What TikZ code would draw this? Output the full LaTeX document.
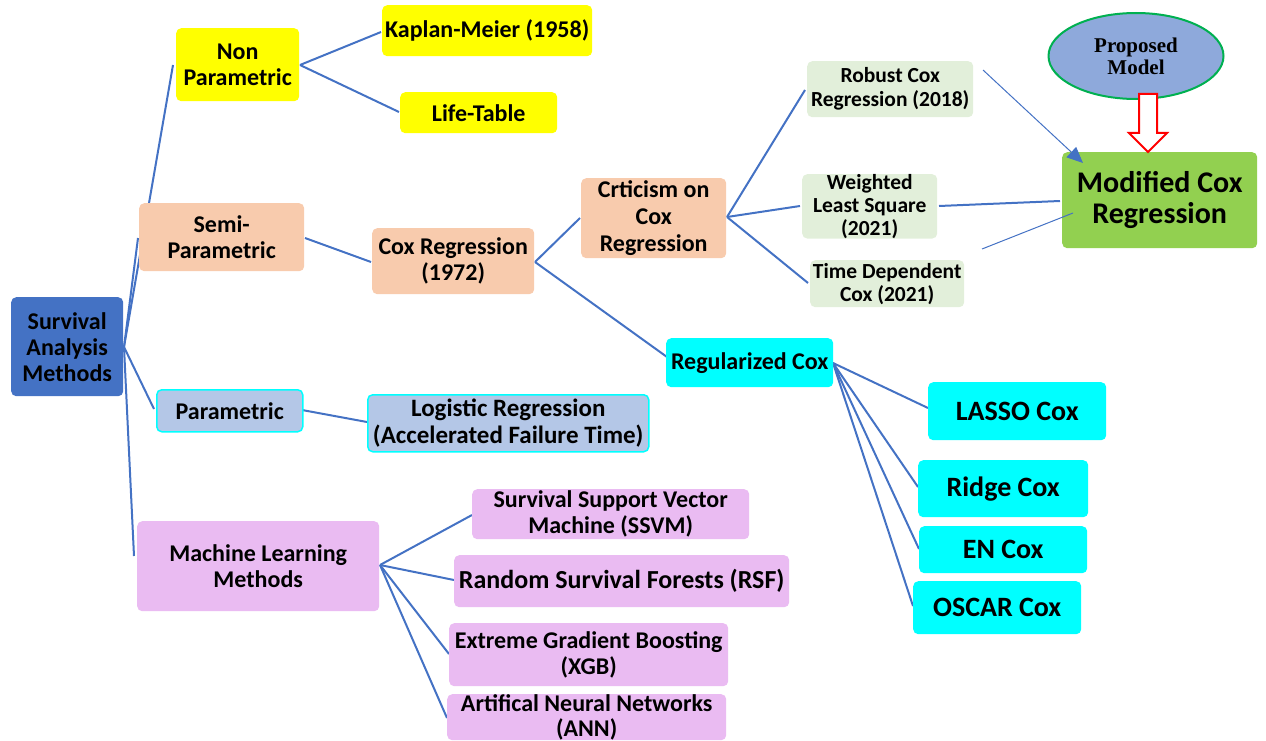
\documentclass[tikz,border=0pt]{standalone}
\usepackage{fontspec}
\setmainfont{Carlito}
\newfontfamily\timesf{Liberation Serif}
\usetikzlibrary{arrows.meta,shapes.geometric}
\definecolor{rootblue}{HTML}{4472C4}
\definecolor{linkblue}{HTML}{4472C4}
\definecolor{yel}{HTML}{FFFF00}
\definecolor{peach}{HTML}{F8CBAD}
\definecolor{lgreen}{HTML}{E2EFDA}
\definecolor{mgreen}{HTML}{92D050}
\definecolor{pblue}{HTML}{B4C7E7}
\definecolor{cyanc}{HTML}{00FFFF}
\definecolor{lpurple}{RGB}{234,187,242}
\definecolor{ellfill}{HTML}{8EA9DB}
\definecolor{ellline}{HTML}{00B050}
\tikzset{
  box/.style={rounded corners=5pt, anchor=north west, align=center, inner sep=0pt,
     font=\fontsize{24}{26}\selectfont\bfseries, text=black},
  small/.style={font=\fontsize{21.5}{23}\selectfont\bfseries},
  big/.style={font=\fontsize{28}{31}\selectfont\bfseries},
  link/.style={draw=linkblue, line width=2pt},
  thin/.style={draw=linkblue, line width=1pt},
}
\newcommand{\bx}[7]{% name, x1, y1, x2, y2, style, text
  \pgfmathsetmacro{\bw}{#4-#2}\pgfmathsetmacro{\bh}{#5-#3}
  \node[box, #6, minimum width=\bw pt, minimum height=\bh pt] (#1) at (#2,#3) {#7};}
\begin{document}
\begin{tikzpicture}[x=1pt,y=-1pt]
\useasboundingbox (0,0) rectangle (1266,741);
\coordinate (rootR) at (124,347);
% connectors (drawn first, beneath boxes)
\draw[link] (rootR) -- (173,65);
\draw[link] (rootR) -- (138,238);
\draw[link] (rootR) -- (154,409);
\draw[link] (rootR) -- (134,556);
\draw[link] (300,65) -- (381,32);
\draw[link] (300,65) -- (399,112);
\draw[link] (305,238) -- (371,262);
\draw[link] (535,262) -- (580,218);
\draw[link] (535,262) -- (667,357);
\draw[link] (727,217) -- (805,90);
\draw[link] (727,217) -- (800,206);
\draw[link] (727,217) -- (808,283);
\draw[link] (302,410) -- (367,422);
\draw[link] (833,363) -- (928,408);
\draw[link] (833,363) -- (918,487);
\draw[link] (833,363) -- (919,549);
\draw[link] (833,363) -- (913,606);
\draw[link] (380,565) -- (472,515);
\draw[link] (380,565) -- (454,580);
\draw[link] (380,565) -- (449,654);
\draw[link] (380,565) -- (447,718);
% boxes
\bx{root}{11}{297}{123}{396}{fill=rootblue}{Survival\\Analysis\\Methods}
\bx{nonp}{176}{28}{299}{101}{fill=yel}{Non\\Parametric}
\bx{km}{382}{5}{592}{56}{fill=yel}{Kaplan-Meier (1958)}
\bx{lt}{400}{92}{557}{133}{fill=yel}{Life-Table}
\bx{semi}{139}{203}{304}{271}{fill=peach}{Semi-\\Parametric}
\bx{cox}{372}{228}{534}{294}{fill=peach}{Cox Regression\\(1972)}
\bx{crit}{581}{178}{726}{258}{fill=peach, font=\fontsize{24}{27}\selectfont\bfseries}{Crticism on\\Cox\\Regression}
\bx{robust}{807}{61}{973}{117}{fill=lgreen, small, font=\fontsize{21.5}{24}\selectfont\bfseries}{Robust Cox\\Regression (2018)}
\bx{wls}{802}{174}{937}{236}{fill=lgreen, small}{Weighted\\Least Square\\(2021)}
\bx{tdc}{810}{260}{964}{307}{fill=lgreen, small}{Time Dependent\\Cox (2021)}
\bx{mod}{1062}{152}{1257}{248}{fill=mgreen, font=\fontsize{30}{31}\selectfont\bfseries}{Modified Cox\\Regression}
\bx{par}{156}{389}{302}{431}{fill=pblue, draw=cyanc, line width=1.5pt}{Parametric}
\bx{logit}{367}{394}{648}{451}{fill=pblue, draw=cyanc, line width=1.5pt, font=\fontsize{25}{27}\selectfont\bfseries}{Logistic Regression\\(Accelerated Failure Time)}
\bx{reg}{666}{338}{833}{387}{fill=cyanc}{Regularized Cox}
\bx{lasso}{928}{382}{1106}{440}{fill=cyanc, big}{LASSO Cox}
\bx{ridge}{918}{460}{1088}{517}{fill=cyanc, big}{Ridge Cox}
\bx{en}{919}{526}{1087}{573}{fill=cyanc, big}{EN Cox}
\bx{oscar}{913}{581}{1081}{634}{fill=cyanc, big}{OSCAR Cox}
\bx{ml}{137}{521}{379}{611}{fill=lpurple}{Machine Learning\\Methods}
\bx{ssvm}{472}{489}{749}{539}{fill=lpurple}{Survival Support Vector\\Machine (SSVM)}
\bx{rsf}{454}{555}{789}{607}{fill=lpurple, font=\fontsize{26}{28}\selectfont\bfseries}{Random Survival Forests (RSF)}
\bx{xgb}{449}{623}{728}{686}{fill=lpurple}{Extreme Gradient Boosting\\(XGB)}
\node[box, fill=lpurple, minimum width=279pt, minimum height=46pt, font=\fontsize{24}{25}\selectfont\bfseries] (ann) at (447,694) {Artifical Neural Networks\\(ANN)};
% proposed model
\node[ellipse, draw=ellline, line width=2pt, fill=ellfill, minimum width=175pt, minimum height=86pt, inner sep=0pt, align=center,
      font=\fontsize{21}{22}\selectfont\timesf\bfseries] (prop) at (1136,56) {Proposed\\Model};
% hollow red arrow
\draw[red, line width=2pt, fill=white, line join=miter]
  (1139,94) -- (1157,94) -- (1157,133) -- (1167,133) -- (1148,152) -- (1129,133) -- (1139,133) -- cycle;
% links to modified cox
\coordinate (ra) at (983,70);
\coordinate (rtip) at (1083,163);
\coordinate (tl) at (982,249);
\coordinate (tlend) at (1073,213);
\coordinate (wlsout) at (939,206);
\coordinate (modin) at (1060,201);
\draw[thin, -{Triangle[length=16pt,width=14pt]}] (ra) -- (rtip);
\draw[link] (wlsout) -- (modin);
\draw[thin] (tl) -- (tlend);
\end{tikzpicture}
\end{document}
